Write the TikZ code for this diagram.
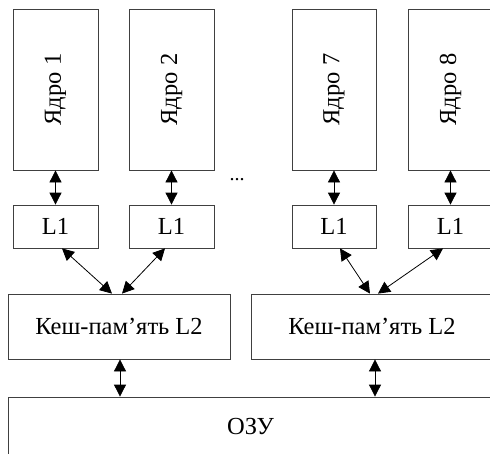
\documentclass[tikz,border=0pt]{standalone}
\usepackage{fontspec}
\setmainfont{Liberation Serif}
\usepackage{tikz}
\usetikzlibrary{calc,positioning,arrows.meta}

\begin{document}
\begin{tikzpicture}[x=1pt,y=-1pt,
  box/.style={draw=black!75,line width=0.8pt,inner sep=0pt,font=\fontsize{24.5}{28}\selectfont},
  link/.style={{Triangle[length=12pt,width=12pt]}-{Triangle[length=12pt,width=12pt]},line width=0.8pt}]
\useasboundingbox (0,0) rectangle (490,453);

%cores
\node[box,minimum width=85,minimum height=161] (core1) at (55.5,89.5) {\rotatebox{90}{Ядро 1}};
\node[box,minimum width=85,minimum height=161] (core2) at (171.5,89.5) {\rotatebox{90}{Ядро 2}};
\node[box,minimum width=84,minimum height=161] (core7) at (334,89.5) {\rotatebox{90}{Ядро 7}};
\node[box,minimum width=85,minimum height=161] (core8) at (450.5,89.5) {\rotatebox{90}{Ядро 8}};
\node[font=\fontsize{20}{22}\selectfont] (dots) at (237,180) {...};

%L1 caches
\node[box,minimum width=85,minimum height=43] (l1a) at (55.5,226.5) {L1};
\node[box,minimum width=85,minimum height=43] (l1b) at (171.5,226.5) {L1};
\node[box,minimum width=84,minimum height=43] (l1c) at (334,226.5) {L1};
\node[box,minimum width=85,minimum height=43] (l1d) at (450.5,226.5) {L1};

%L2 caches
\node[box,minimum width=222,minimum height=65] (l2a) at (119,326.5) {Кеш-пам’ять L2};
\node[box,minimum width=242,minimum height=65] (l2b) at (372,326.5) {Кеш-пам’ять L2};

%memory
\node[box,minimum width=485,minimum height=58] (ram) at (250.5,426) {ОЗУ};

%core - L1
\draw[link] (core1) -- (l1a);
\draw[link] (core2) -- (l1b);
\draw[link] (core7) -- (l1c);
\draw[link] (core8) -- (l1d);

%L1 - L2
\draw[link] ($(l1a.south)+(6.5,0)$) -- ($(l2a.north)+(-7,0)$);
\draw[link] ($(l1b.south)+(-6.5,0)$) -- ($(l2a.north)+(3,0)$);
\draw[link] ($(l1c.south)+(6,0)$) -- ($(l2b.north)+(-2,0)$);
\draw[link] ($(l1d.south)+(-7.5,0)$) -- ($(l2b.north)+(6,0)$);

%L2 - memory
\coordinate (busa) at ($(l2a.south)+(1,0)$);
\coordinate (busb) at ($(l2b.south)+(3,0)$);
\draw[link] (busa) -- (busa |- ram.north);
\draw[link] (busb) -- (busb |- ram.north);

\end{tikzpicture}
\end{document}
